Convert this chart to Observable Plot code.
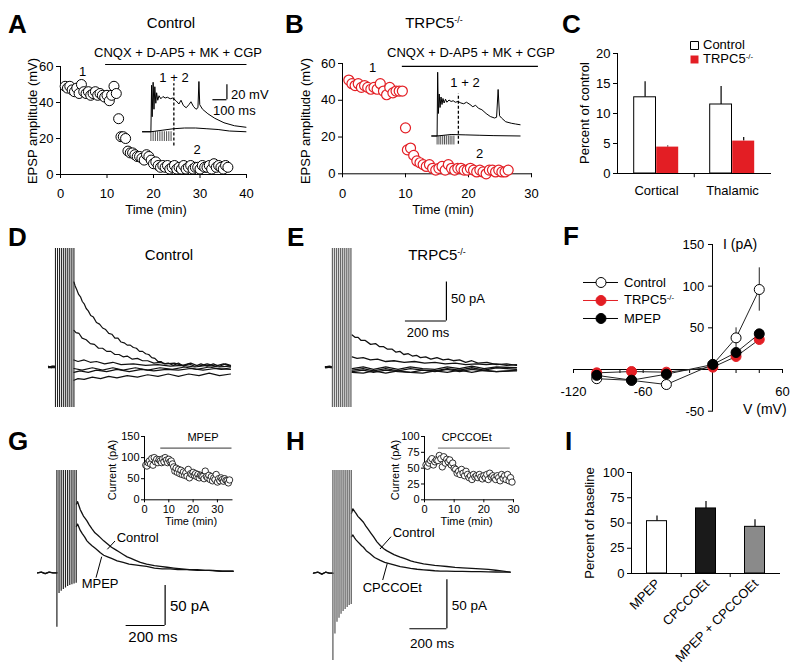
<!DOCTYPE html>
<html><head><meta charset="utf-8">
<script src="https://cdn.jsdelivr.net/npm/d3@7"></script>
<script src="https://cdn.jsdelivr.net/npm/@observablehq/plot@0.6"></script>
<style>
html,body{margin:0;padding:0;background:#fff;}
#fig{position:relative;width:800px;height:672px;overflow:hidden;background:#fff;}
</style></head><body><div id="fig"></div>
<script>
// ================= DATA =================
// Panel A (Control): EPSP amplitude vs time
const aTime = [1,1.5,2,2.5,3,3.5,4,4.5,5,5.5,6,6.5,7,7.5,8,8.5,9,9.5,10,10.5,11,11.5,12,12.5,13,13.5,14,14.5,15,15.5,16,16.5,17,17.5,18,18.5,19,19.5,20,20.5,21,21.5,22,22.5,23,23.5,24,24.5,25,25.5,26,26.5,27,27.5,28,28.5,29,29.5,30,30.5,31,31.5,32,32.5,33,33.5,34,34.5,35,35.5,36];
const aAmp = [49,48,49,47,46,48,45,50,46,45,46,44,45,46,44,45,44,43,44,41,44,49,45,31,21,21,20,13,12,12,11,10,10,9,8,11,10,8,6,7,5,4,5,4,5,3,4,5,3,4,3,5,3,4,5,3,4,4,3,5,4,4,5,3,6,4,5,4,3,5,4];
const aXTicks = [0,10,20,30,40], aYTicks = [0,20,40,60];
const aDrug = {from: 9.7, to: 40.1, y: 61.1};
// Panel A inset traces (ms, mV)
const aInsetTop = [[-60,0],[0,0],[5,62],[9,20],[16,66],[22,30],[28,60],[35,38],[41,52],[49,42],[58,48],[71,44],[86,47],[102,45],[118,46],[138,44],[157,45],[181,41],[200,37],[215,42],[232,35],[252,32],[271,36],[286,40],[303,34],[322,30],[336,32],[343,67],[349,36],[369,30],[407,24],[456,18],[522,12],[597,8],[679,6]];
const aInsetBottom = [[-60,0],[0,0],[80,2],[160,4],[240,5],[320,5],[400,4],[480,3],[560,1],[679,0]];
const aInsetStim = [0,16,32,48,64,80,96,112,128,144];
const aInsetCut = {t: 164, lo: -19, hi: 64};
const aInsetScale = {ms: 100, mV: 20, t: 543, v: 42.7};
// Panel B (TRPC5-/-)
const bTime = [1,1.5,2,2.5,3,3.5,4,4.5,5,5.5,6,6.5,7,7.5,8,8.5,9,9.5,10,10.3,10.8,11.3,11.8,12.3,12.8,13.3,13.8,14.3,14.8,15.3,15.8,16.3,16.8,17.3,17.8,18.3,18.8,19.3,19.8,20.3,20.8,21.3,21.8,22.3,22.8,23.3,23.8,24.3,24.8,25.3,25.8,26.3];
const bAmp = [51,49,48,49,47,48,47,46,47,46,49,45,43,47,44,45,45,45,25,13,14,10,7,6,5,4,5,3,2,3,4,2,5,3,2,3,3,2,2,3,2,1,2,1,0,2,2,1,2,1,1,2];
const bXTicks = [0,10,20,30], bYTicks = [0,20,40,60];
const bDrug = {from: 9.5, to: 31.1, y: 58.4};
const bInsetTop = [[-36,0],[0,0],[4,85],[9,30],[15,56],[21,38],[28,52],[35,42],[42,50],[50,44],[60,49],[70,45],[85,48],[100,46],[115,47],[130,45],[150,46],[170,44],[190,43],[210,45],[235,42],[255,39],[275,41],[295,37],[320,35],[350,30],[380,26],[410,24],[425,25],[436,62],[446,27],[460,24],[490,19],[530,17],[560,16],[593,15]];
const bInsetBottom = [[-40,0],[0,0],[100,2],[200,1.5],[300,1],[400,0.5],[593,0]];
const bInsetStim = [0,13,26,40,53,66,80,93,106,120];
const bInsetCut = {t: 152, lo: -11, hi: 56};
// Panel C
const cCats = ["Cortical","Thalamic"];
const cSeries = ["Control","TRPC5"];
const cControl = [12.7, 11.5], cControlErr = [2.6, 3.0];
const cKO = [4.4, 5.4], cKOErr = [0.2, 0.6];
const cYTicks = [0,5,10,15,20];
// Panel D traces (ms, pA); null marks the stimulation gap
const dT1 = [[-34,1],[-20,-1],[-8,1],[0,0],[45,null],[90,109],[96,104],[104,99],[113,93],[122,90],[131,84],[140,81],[150,75],[160,72],[172,66],[185,64],[200,57],[215,55],[230,50],[245,48],[260,43],[275,42],[290,37],[305,37],[320,32],[335,31],[350,28],[365,28],[380,25],[395,24],[410,20],[425,20],[440,17],[455,16],[470,12],[485,11],[500,7],[515,7],[530,4],[550,5],[575,2],[600,5],[625,1],[650,4],[680,1],[710,4],[740,1],[770,4],[800,1],[830,4],[854,2]];
const dT2 = [[-34,0],[-15,1],[0,0],[45,null],[90,47],[100,44],[115,43],[130,37],[150,35],[170,30],[190,29],[210,24],[230,24],[250,20],[270,20],[290,16],[310,16],[330,13],[350,14],[375,10],[400,11],[425,8],[450,8],[480,5],[510,6],[540,4],[580,5],[620,2],[660,5],[700,1],[740,4],[780,1],[820,4],[854,1]];
const dT3 = [[-34,0],[0,1],[45,null],[90,9],[110,7],[140,9],[170,6],[200,7],[240,4],[280,6],[320,3],[380,4],[440,2],[500,3],[560,1],[620,2],[680,0],[740,2],[800,0],[854,1]];
const dT4 = [[-34,-1],[0,-1],[45,null],[90,-2],[130,-4],[180,-1],[230,-4],[280,-1],[330,-4],[390,-1],[450,-4],[510,-1],[570,-3],[630,0],[690,-3],[750,0],[810,-3],[854,-1]];
const dT5 = [[-34,0],[0,0],[45,null],[90,-7],[120,-5],[160,-7],[200,-4],[250,-6],[300,-3],[360,-6],[420,-3],[480,-5],[540,-3],[600,-4],[660,-2],[720,-4],[780,-2],[854,-3]];
const dT6 = [[-34,0],[0,0],[45,null],[90,-17],[110,-15],[140,-16],[180,-13],[220,-15],[260,-12],[300,-14],[350,-11],[400,-13],[450,-10],[500,-12],[550,-9],[600,-12],[650,-9],[700,-11],[750,-8],[800,-11],[854,-9]];
const dStim = [0,10,20,30,40,50,60,70,80,90];
const dStimRange = {lo: -52, hi: 152};
// Panel E traces
const eT1 = [[-34,0],[-15,1],[0,0],[48,null],[96,41],[110,38],[125,38],[140,34],[160,34],[186,29],[210,30],[230,26],[250,26],[267,23],[290,23],[310,19],[330,20],[348,16],[370,17],[390,14],[410,15],[429,12],[455,13],[480,10],[510,12],[540,9],[565,10],[590,8],[620,9],[650,6],[680,8],[710,5],[754,6],[800,3],[850,4],[898,2]];
const eT2 = [[-34,0],[0,0],[48,null],[96,13],[120,11],[150,12],[185,9],[220,10],[260,7],[300,8],[350,6],[400,7],[450,5],[500,6],[550,4],[600,5],[650,3],[700,4],[750,3],[800,4],[850,2],[898,3]];
const eT3 = [[-34,0],[0,0],[48,null],[96,-2],[150,0],[200,-3],[260,0],[320,-3],[380,0],[440,-2],[500,-3],[560,0],[620,-2],[680,1],[740,-2],[800,0],[898,-1]];
const eT4 = [[-34,0],[0,-1],[48,null],[96,-4],[150,-2],[200,-5],[260,-2],[320,-5],[380,-2],[440,-4],[500,-5],[560,-2],[620,-4],[680,-1],[740,-4],[800,-1],[898,-3]];
const eT5 = [[-34,-1],[0,0],[48,null],[96,-6],[150,-4],[200,-7],[260,-4],[320,-6],[380,-7],[440,-4],[500,-6],[560,-3],[620,-6],[680,-3],[740,-5],[800,-6],[898,-4]];
const eT6 = [[-34,0],[0,0],[48,null],[96,-7],[150,-8],[200,-5],[260,-8],[320,-5],[380,-7],[440,-8],[500,-5],[560,-7],[620,-4],[680,-7],[740,-4],[800,-6],[898,-5]];
const eStim = [0,10,20,30,40,50,60,70,80,90];
const eScaleBar = {ms: 200, pA: 50, t: 556, v: 59};
// Panel F I-V
const fV = [-100,-70,-40,0,20,40];
const fControl = [-11,-13,-18,6,38,96], fControlErr = [2,4,3,2,12,26];
const fKO = [-4,-2.4,-3.2,2.8,15.6,36], fKOErr = [1,1,1,1,2,3];
const fMPEP = [-7,-12.8,-5.6,6,20.4,42.8], fMPEPErr = [2,3,2,1,3,4];
const fNames = ["Control","TRPC5","MPEP"];
const fXTicks = [-120,-100,-80,-60,-40,-20,20,40,60];
const fXLabels = [-120,-60,60];
const fYTicks = [150,100,50,-50];
// Panel G
const gCtl = [[-99,0],[-80,1],[-60,-1],[-40,1],[-20,0],[0,0],[50,null],[100,86],[106,89],[113,84],[120,79],[128,75],[136,71],[145,68],[154,65],[166,60],[180,55],[195,50],[210,47],[223,44],[240,40],[260,36],[280,32],[300,29],[320,26],[340,23],[360,20],[380,18],[400,16],[428,13],[460,11],[500,9],[530,8],[565,7],[600,6],[640,5],[680,4],[720,4],[760,3],[800,3],[850,2],[904,2]];
const gMPEP = [[-99,0],[-80,1],[-60,-1],[-40,1],[-20,0],[0,0],[50,null],[100,58],[106,61],[113,57],[120,53],[130,49],[142,45],[154,40],[166,37],[180,34],[195,31],[210,28],[223,25],[240,22],[260,20],[280,18],[309,15],[340,13],[370,11],[400,10],[428,9],[460,8],[500,6],[540,5],[580,5],[620,4],[670,4],[720,3],[780,3],[840,2],[904,2]];
const gStimT = [0,11,22,33,44,55,66,77,88,99];
const gStimLow = [-68,-26,-23,-21,-19,-17,-16,-15,-14,-13];
const gStimHigh = 128;
const gScaleBar = {ms: 200, pA: 50, t: 555, v: -65.9};
const gInTime = [0.5,1,1.5,2,2.5,3,3.5,4,4.5,5,5.5,6,6.5,7,7.5,8,8.5,9,9.5,10,10.5,11,11.5,12,12.5,13,13.5,14,14.5,15,15.5,16,16.5,17,17.5,18,18.5,19,19.5,20,20.5,21,21.5,22,22.5,23,23.5,24,24.5,25,25.5,26,26.5,27,27.5,28,28.5,29,29.5,30,30.5,31,31.5,32,32.5,33,33.5,34,34.5,35];
const gInCur = [82,80,88,92,85,98,82,100,90,96,88,95,92,88,97,90,100,94,88,96,90,92,85,78,68,75,65,72,62,70,60,66,58,64,56,72,52,62,60,65,58,62,55,60,52,58,56,55,50,68,55,52,58,48,55,45,52,48,60,42,50,45,52,48,44,50,46,45,40,47];
const gInDrug = {from: 6.7, to: 36, y: 122.5};
// Panel H
const hCtl = [[-105,0],[-80,1],[-60,-1],[-40,1],[-20,0],[0,0],[50,null],[100,61],[108,65.7],[117,63],[125,61],[135,58],[145,56],[155,54],[165,52],[178,48],[190,45],[205,41],[220,37],[238,32],[256,28.3],[275,25],[290,23],[310,21],[330,19],[350,17.5],[364,16.4],[385,15],[400,14],[420,12.5],[440,11.5],[465,10.5],[490,9.6],[520,8.8],[550,8],[580,7.4],[616,6.8],[660,6],[700,5.5],[750,5],[796,4.5],[840,3.8],[880,3],[920,2],[958,1]];
const hCPC = [[-105,0],[-80,1],[-60,-1],[-40,1],[-20,0],[0,0],[50,null],[100,37],[108,39],[117,36],[125,34],[135,32],[145,30],[155,28],[165,26.5],[180,23],[200,20],[225,16],[256,13],[280,11],[300,10],[330,8.5],[364,6.8],[390,6],[420,5],[455,4],[490,3.4],[520,3],[550,2.5],[580,2.2],[616,2],[660,1.9],[700,1.8],[750,1.6],[796,1.5],[840,1.3],[880,1.2],[920,1.1],[958,1]];
const hStimT = [0,11,22,33,44,55,66,77,88,99];
const hStimLow = [-89,-62,-50,-46,-42,-39,-37,-35,-33,-32];
const hStimHigh = 104.8;
const hScaleBar = {ms: 200, pA: 50, t: 616, v: -56.7};
const hInTime = [0.5,1,1.5,2,2.5,3,3.5,4,4.5,5,5.5,6,6.5,7,7.5,8,8.5,9,9.5,10,10.5,11,11.5,12,12.5,13,13.5,14,14.5,15,15.5,16,16.5,17,17.5,18,18.5,19,19.5,20,20.5,21,21.5,22,22.5,23,23.5,24,24.5,25,25.5,26,26.5,27,27.5,28,28.5,29,29.5];
const hInCur = [55,53,58,62,65,55,60,63,62,70,65,52,68,58,64,60,63,55,58,50,48,42,45,40,48,42,38,45,40,35,38,32,40,36,38,35,40,36,33,38,35,40,32,42,36,38,35,32,38,35,30,40,34,38,32,40,30,35,28];
const hInDrug = {from: 4.7, to: 28.9, y: 81.7};
// Panel I
const iCats = ["MPEP","CPCCOEt","MPEP + CPCCOEt"];
const iVals = [51.8, 64.4, 46.2];
const iErr = [5.2, 6.9, 7.0];
const iFills = ["#ffffff", "#1a1a1a", "#8a8a8a"];
const iYTicks = [0,25,50,75,100];

// ================= LAYOUT HELPERS =================
const FONT = '"Liberation Sans", Arial, Helvetica, sans-serif';
const RED = "#e31e24";
const fig = document.getElementById("fig");
function place(area, pad, opts) {
  const {fontSize = 13, ...rest} = opts;
  const width = area.x1 - area.x0 + pad.l + pad.r;
  const height = area.y1 - area.y0 + pad.t + pad.b;
  const svg = Plot.plot({
    width, height,
    marginLeft: pad.l, marginRight: pad.r, marginTop: pad.t, marginBottom: pad.b,
    style: {background: "transparent", overflow: "visible", fontFamily: FONT, fontSize: fontSize + "px", color: "#000"},
    ...rest
  });
  Object.assign(svg.style, {position: "absolute", left: (area.x0 - pad.l) + "px", top: (area.y0 - pad.t) + "px", maxWidth: "none"});
  fig.appendChild(svg);
  return svg;
}
const P0 = {l: 0, r: 0, t: 0, b: 0};
const flat = (traces) => traces.flatMap((tr, k) => tr.map(([t, v]) => ({k, t, v})));

// ================= PANEL A =================
place({x0: 60, x1: 246, y0: 66, y1: 174}, {l: 40, r: 12, t: 12, b: 30}, {
  x: {domain: [0, 40], ticks: aXTicks, tickSize: 4, tickPadding: 10, line: true, label: null},
  y: {domain: [0, 60], ticks: aYTicks, tickSize: 4, tickPadding: 3, line: true, label: null},
  marks: [
    Plot.ruleY([aDrug.y], {x1: aDrug.from, x2: aDrug.to, stroke: "#000", strokeWidth: 1.2}),
    Plot.dot(aTime.map((t, i) => ({t, v: aAmp[i]})), {x: "t", y: "v", r: 5, stroke: "#000", fill: "#fff", strokeWidth: 1})
  ]
});
place({x0: 141.6, x1: 246.6, y0: 74.75, y1: 146}, P0, {
  x: {domain: [-60, 690], axis: null}, y: {domain: [-20, 75], axis: null},
  marks: [
    Plot.ruleX(aInsetStim, {x: d => d, y1: 0, y2: -13, strokeWidth: 0.7}),
    Plot.line(aInsetBottom, {x: d => d[0], y: d => d[1], strokeWidth: 1}),
    Plot.line(aInsetTop, {x: d => d[0], y: d => d[1], strokeWidth: 1}),
    Plot.ruleX([aInsetCut.t], {y1: aInsetCut.lo, y2: aInsetCut.hi, strokeDasharray: "3,2", strokeWidth: 1.3}),
    Plot.ruleX([aInsetScale.t], {y1: aInsetScale.v, y2: aInsetScale.v + aInsetScale.mV, strokeWidth: 1.2}),
    Plot.ruleY([aInsetScale.v], {x1: aInsetScale.t - aInsetScale.ms, x2: aInsetScale.t, strokeWidth: 1.2})
  ]
});

// ================= PANEL B =================
place({x0: 342, x1: 531, y0: 62.7, y1: 173}, {l: 40, r: 12, t: 12, b: 30}, {
  x: {domain: [0, 30], ticks: bXTicks, tickSize: 4, tickPadding: 11, line: true, label: null},
  y: {domain: [0, 60], ticks: bYTicks, tickSize: 4, tickPadding: 3, line: true, label: null},
  marks: [
    Plot.ruleY([bDrug.y], {x1: bDrug.from, x2: bDrug.to, stroke: "#000", strokeWidth: 1.2}),
    Plot.dot(bTime.map((t, i) => ({t, v: bAmp[i]})), {x: "t", y: "v", r: 5, stroke: RED, fill: "#fff", strokeWidth: 1.2})
  ]
});
place({x0: 431.1, x1: 520.7, y0: 67.5, y1: 150}, P0, {
  x: {domain: [-40, 600], axis: null}, y: {domain: [-20, 90], axis: null},
  marks: [
    Plot.ruleX(bInsetStim, {x: d => d, y1: 0, y2: -12, strokeWidth: 0.7}),
    Plot.line(bInsetBottom, {x: d => d[0], y: d => d[1], strokeWidth: 1}),
    Plot.line(bInsetTop, {x: d => d[0], y: d => d[1], strokeWidth: 1}),
    Plot.ruleX([bInsetCut.t], {y1: bInsetCut.lo, y2: bInsetCut.hi, strokeDasharray: "3,2", strokeWidth: 1.3})
  ]
});

// ================= PANEL C =================
const cCtlRows = cCats.map((c, i) => ({cat: c, v: cControl[i], e: cControlErr[i]}));
const cKORows = cCats.map((c, i) => ({cat: c, v: cKO[i], e: cKOErr[i]}));
place({x0: 617, x1: 770, y0: 53.3, y1: 173.3}, {l: 40, r: 10, t: 10, b: 30}, {
  x: {domain: cCats, padding: 0, tickSize: 0, tickPadding: 12, line: true, label: null},
  y: {domain: [0, 20], ticks: cYTicks, tickSize: 4, tickPadding: 3, line: true, label: null},
  marks: [
    Plot.ruleX(cCtlRows, {x: "cat", y1: "v", y2: d => d.v + d.e, dx: -11.4, strokeWidth: 1.2}),
    Plot.ruleX(cKORows, {x: "cat", y1: "v", y2: d => d.v + d.e, dx: 11.2, strokeWidth: 1.2}),
    Plot.barY(cCtlRows, {x: "cat", y: "v", fill: "#fff", stroke: "#000", strokeWidth: 1, insetLeft: 15.7, insetRight: 38.5}),
    Plot.barY(cKORows, {x: "cat", y: "v", fill: RED, insetLeft: 38.2, insetRight: 15.8}),
    Plot.ruleX(cCats.slice(1), {x: d => d, y1: 0, y2: -0.7, dx: -38.25})
  ]
});
place({x0: 690, x1: 698, y0: 44.8, y1: 59.2}, P0, {
  x: {domain: [0, 1], axis: null}, y: {type: "point", domain: cSeries, padding: 0, axis: null},
  marks: [
    Plot.dot([cSeries[0]], {x: 0.5, y: d => d, symbol: "square", r: 4.5, fill: "#fff", stroke: "#000", strokeWidth: 1}),
    Plot.dot([cSeries[1]], {x: 0.5, y: d => d, symbol: "square", r: 4.5, fill: RED})
  ]
});

// ================= PANEL D / E =================
place({x0: 48, x1: 230, y0: 248, y1: 407}, P0, {
  x: {domain: [-34, 854], axis: null}, y: {domain: [-52, 152], axis: null},
  marks: [
    Plot.line(flat([dT1, dT2, dT3, dT4, dT5, dT6]), {x: "t", y: "v", z: "k", stroke: "#111", strokeWidth: 1.2}),
    Plot.ruleX(dStim, {x: d => d, y1: dStimRange.lo, y2: dStimRange.hi, stroke: "#222", strokeWidth: 1.1})
  ]
});
place({x0: 325, x1: 516, y0: 248, y1: 407}, P0, {
  x: {domain: [-34, 898], axis: null}, y: {domain: [-52, 152], axis: null},
  marks: [
    Plot.line(flat([eT1, eT2, eT3, eT4, eT5, eT6]), {x: "t", y: "v", z: "k", stroke: "#111", strokeWidth: 1.3}),
    Plot.ruleX(eStim, {x: d => d, y1: dStimRange.lo, y2: dStimRange.hi, stroke: "#666", strokeWidth: 1.3}),
    Plot.ruleX([eScaleBar.t], {y1: eScaleBar.v, y2: eScaleBar.v + eScaleBar.pA, strokeWidth: 1.2}),
    Plot.ruleY([eScaleBar.v], {x1: eScaleBar.t - eScaleBar.ms, x2: eScaleBar.t, strokeWidth: 1.2})
  ]
});

// ================= PANEL F =================
const fSeries = [
  {name: "Control", vals: fControl, err: fControlErr, fill: "#fff", stroke: "#000", line: "#000"},
  {name: "TRPC5", vals: fKO, err: fKOErr, fill: RED, stroke: RED, line: RED},
  {name: "MPEP", vals: fMPEP, err: fMPEPErr, fill: "#000", stroke: "#000", line: "#000"}
];
const fRows = fSeries.flatMap(s => fV.map((v, i) => ({s: s.name, v, i: s.vals[i], e: s.err[i]})));
// x axis through the origin (a 1px-high frame whose bottom edge is I = 0)
place({x0: 572.7, x1: 781.7, y0: 368, y1: 369}, {l: 30, r: 20, t: 0, b: 30}, {
  x: {domain: [-120, 60], ticks: fXTicks, tickSize: 4, tickPadding: 13,
      tickFormat: d => fXLabels.includes(d) ? String(d) : "", line: true, label: null},
  marks: []
});
// y axis through the origin (a 1px-wide frame whose left edge is V = 0); labels drawn in the overlay
const fYAxisArea = {x0: 712.3, x1: 713.3, y0: 244, y1: 410.7};
place(fYAxisArea, {l: 35, r: 0, t: 10, b: 10}, {
  y: {domain: [-50, 150], ticks: fYTicks, tickSize: 4, tickPadding: 4,
      tickFormat: () => "", line: true, label: null},
  marks: []
});
const fYScale = d3.scaleLinear().domain([-50, 150]).range([fYAxisArea.y1, fYAxisArea.y0]);
place({x0: 572.7, x1: 781.7, y0: 244, y1: 410.7}, {l: 30, r: 20, t: 10, b: 30}, {
  x: {domain: [-120, 60], axis: null}, y: {domain: [-50, 150], axis: null},
  marks: [
    Plot.line(fRows, {x: "v", y: "i", z: "s", stroke: "#222", strokeWidth: 1}),
    Plot.ruleX(fRows, {x: "v", y1: d => d.i - d.e, y2: d => d.i + d.e, stroke: "#222"}),
    ...fSeries.map(s => Plot.dot(fRows.filter(r => r.s === s.name), {x: "v", y: "i", r: 5, fill: s.fill, stroke: s.stroke, strokeWidth: 1}))
  ]
});
place({x0: 583, x1: 618, y0: 282.3, y1: 319}, P0, {
  x: {domain: [0, 1], axis: null}, y: {type: "point", domain: fNames, padding: 0, axis: null},
  marks: fSeries.flatMap(s => [
    Plot.ruleY([s.name], {y: d => d, x1: 0, x2: 1, stroke: s.line, strokeWidth: 1}),
    Plot.dot([s.name], {x: 0.5, y: d => d, r: 5, fill: s.fill, stroke: s.stroke, strokeWidth: 1})
  ])
});

// ================= PANEL G =================
place({x0: 37.3, x1: 233, y0: 470, y1: 626.7}, P0, {
  x: {domain: [-99.5, 904], axis: null}, y: {domain: [-68, 128], axis: null},
  marks: [
    Plot.line(flat([gCtl, gMPEP]), {x: "t", y: "v", z: "k", stroke: "#111", strokeWidth: 1.3}),
    Plot.ruleX(gStimT.map((t, i) => ({t, lo: gStimLow[i]})), {x: "t", y1: "lo", y2: gStimHigh, stroke: "#222", strokeWidth: 1.2}),
    Plot.ruleX([gScaleBar.t], {y1: gScaleBar.v, y2: gScaleBar.v + gScaleBar.pA, strokeWidth: 1.2}),
    Plot.ruleY([gScaleBar.v], {x1: gScaleBar.t - gScaleBar.ms, x2: gScaleBar.t, strokeWidth: 1.2})
  ]
});
place({x0: 144.3, x1: 231.8, y0: 435.7, y1: 499}, {l: 25, r: 5, t: 12, b: 16}, {
  fontSize: 11,
  x: {domain: [0, 36], ticks: [0, 10, 20, 30], tickSize: 3, tickPadding: 2, line: true, label: null},
  y: {domain: [0, 150], ticks: [0, 50, 100, 150], tickSize: 3, tickPadding: 2, line: true, label: null},
  marks: [
    Plot.ruleY([gInDrug.y], {x1: gInDrug.from, x2: gInDrug.to, stroke: "#333", strokeWidth: 1}),
    Plot.dot(gInTime.map((t, i) => ({t, v: gInCur[i]})), {x: "t", y: "v", r: 3.2, stroke: "#000", fill: "#fff", strokeWidth: 0.8})
  ]
});

// ================= PANEL H =================
place({x0: 313.3, x1: 510, y0: 470, y1: 660}, P0, {
  x: {domain: [-104.9, 958], axis: null}, y: {domain: [-89.1, 104.8], axis: null},
  marks: [
    Plot.line(flat([hCtl, hCPC]), {x: "t", y: "v", z: "k", stroke: "#111", strokeWidth: 1.3}),
    Plot.ruleX(hStimT.map((t, i) => ({t, lo: hStimLow[i]})), {x: "t", y1: "lo", y2: hStimHigh, stroke: "#555", strokeWidth: 1.2}),
    Plot.ruleX([hScaleBar.t], {y1: hScaleBar.v, y2: hScaleBar.v + hScaleBar.pA, strokeWidth: 1.2}),
    Plot.ruleY([hScaleBar.v], {x1: hScaleBar.t - hScaleBar.ms, x2: hScaleBar.t, strokeWidth: 1.2})
  ]
});
place({x0: 424.3, x1: 513.3, y0: 435.7, y1: 499}, {l: 25, r: 5, t: 12, b: 16}, {
  fontSize: 11,
  x: {domain: [0, 30], ticks: [0, 10, 20, 30], tickSize: 3, tickPadding: 2, line: true, label: null},
  y: {domain: [0, 100], ticks: [0, 25, 50, 75, 100], tickSize: 3, tickPadding: 2, line: true, label: null},
  marks: [
    Plot.ruleY([hInDrug.y], {x1: hInDrug.from, x2: hInDrug.to, stroke: "#666", strokeWidth: 1}),
    Plot.dot(hInTime.map((t, i) => ({t, v: hInCur[i]})), {x: "t", y: "v", r: 3.2, stroke: "#000", fill: "#fff", strokeWidth: 0.8})
  ]
});

// ================= PANEL I =================
const iRows = iCats.map((c, i) => ({cat: c, v: iVals[i], e: iErr[i], fill: iFills[i]}));
place({x0: 631, x1: 780, y0: 471.7, y1: 572.7}, {l: 40, r: 10, t: 10, b: 90}, {
  x: {domain: iCats, padding: 0, axis: null},
  y: {domain: [0, 100], ticks: iYTicks, tickSize: 4, tickPadding: 3, line: true, label: null},
  marks: [
    Plot.ruleX(iRows, {x: "cat", y1: "v", y2: d => d.v + d.e, strokeWidth: 1.2}),
    ...iRows.map(r => Plot.barY([r], {x: "cat", y: "v", fill: r.fill, stroke: "#000", strokeWidth: 1, insetLeft: 14.5, insetRight: 14.5})),
    Plot.ruleY([0]),
    Plot.ruleX(iCats.slice(1), {x: d => d, y1: 0, y2: -4, dx: -24.8}),
    Plot.text(iCats, {x: d => d, y: () => 0, text: d => d, rotate: -45, textAnchor: "end", dy: 8, dx: 1, fontSize: 13})
  ]
});

// ================= TEXT OVERLAY =================
const ov = d3.select(fig).append("svg").attr("width", 800).attr("height", 672)
  .style("position", "absolute").style("left", "0px").style("top", "0px")
  .style("pointer-events", "none").attr("font-family", FONT);
function label(str, x, y, o = {}) {
  const t = ov.append("text").attr("x", x).attr("y", y)
    .attr("font-size", o.size || 13).attr("text-anchor", o.anchor || "start").attr("fill", "#000");
  if (o.bold) t.attr("font-weight", "bold");
  if (o.rotate) t.attr("transform", `rotate(${o.rotate},${x},${y})`).attr("dominant-baseline", "central");
  if (o.middle) t.attr("dominant-baseline", "central");
  t.append("tspan").text(str);
  if (o.sup) t.append("tspan").attr("font-size", "0.6em").attr("dy", "-0.6em").text(o.sup);
  return t;
}
function pointer(x1, y1, x2, y2) {
  ov.append("line").attr("x1", x1).attr("y1", y1).attr("x2", x2).attr("y2", y2).attr("stroke", "#000").attr("stroke-width", 1);
}
// panel letters
[["A", 8, 33], ["B", 285, 33], ["C", 562, 33], ["D", 8, 246], ["E", 287, 246], ["F", 563, 245], ["G", 8, 450], ["H", 286, 450], ["I", 565, 450]]
  .forEach(([s, x, y]) => label(s, x, y, {size: 26, bold: true}));
// A
label("Control", 171, 28, {size: 15, anchor: "middle"});
label("CNQX + D-AP5 + MK + CGP", 178, 57, {anchor: "middle"});
label("1", 82.7, 76, {anchor: "middle"});
label("1 + 2", 174, 81.7, {anchor: "middle"});
label("2", 197, 154, {anchor: "middle"});
label("20 mV", 231, 99);
label("100 ms", 213, 115);
label("EPSP amplitude (mV)", 31.7, 121, {anchor: "middle", rotate: -90});
label("Time (min)", 156, 213.5, {anchor: "middle"});
// B
label("TRPC5", 434, 28, {size: 15, anchor: "middle", sup: "-/-"});
label("CNQX + D-AP5 + MK + CGP", 471, 57, {anchor: "middle"});
label("1", 372.7, 71.7, {anchor: "middle"});
label("1 + 2", 465, 87.3, {anchor: "middle"});
label("2", 479.7, 158.3, {anchor: "middle"});
label("EPSP amplitude (mV)", 305, 121, {anchor: "middle", rotate: -90});
label("Time (min)", 443, 213.5, {anchor: "middle"});
// C
label("Percent of control", 584, 113, {anchor: "middle", rotate: -90});
label("Control", 703, 49);
label("TRPC5", 703, 63.3, {sup: "-/-"});
// D / E
label("Control", 169, 260, {size: 15, anchor: "middle"});
label("TRPC5", 437, 260, {size: 15, anchor: "middle", sup: "-/-"});
label("50 pA", 451, 303);
label("200 ms", 406.7, 337);
// F
fYTicks.forEach(v => label(String(v), fYAxisArea.x0 - 8, fYScale(v), {anchor: "end", middle: true}));
label("I (pA)", 723, 248.5, {size: 14});
label("V (mV)", 743, 414, {size: 14});
label("Control", 624, 286.7);
label("TRPC5", 624, 304.3, {sup: "-/-"});
label("MPEP", 624, 323.3);
// G
label("Control", 116.7, 541.7);
label("MPEP", 81.7, 587.7);
label("50 pA", 170, 611, {size: 15});
label("200 ms", 128.3, 642, {size: 15});
pointer(115, 541, 107.3, 549.3);
pointer(96, 577.7, 101.7, 556.7);
label("MPEP", 203, 440.7, {size: 11, anchor: "middle"});
label("Current (pA)", 111.7, 470, {size: 11, anchor: "middle", rotate: -90});
label("Time (min)", 191, 524.5, {size: 11, anchor: "middle"});
// H
label("Control", 392.7, 536.7);
label("CPCCOEt", 362.7, 591.7);
label("50 pA", 451.7, 610, {size: 13.5});
label("200 ms", 410, 648, {size: 13.5});
pointer(391, 536.7, 380, 549);
pointer(382.7, 580, 387.3, 563.3);
label("CPCCOEt", 466.7, 440.7, {size: 11, anchor: "middle"});
label("Current (pA)", 395, 470, {size: 11, anchor: "middle", rotate: -90});
label("Time (min)", 466.7, 524.5, {size: 11, anchor: "middle"});
// I
label("Percent of baseline", 589, 523, {anchor: "middle", rotate: -90});
</script></body></html>
